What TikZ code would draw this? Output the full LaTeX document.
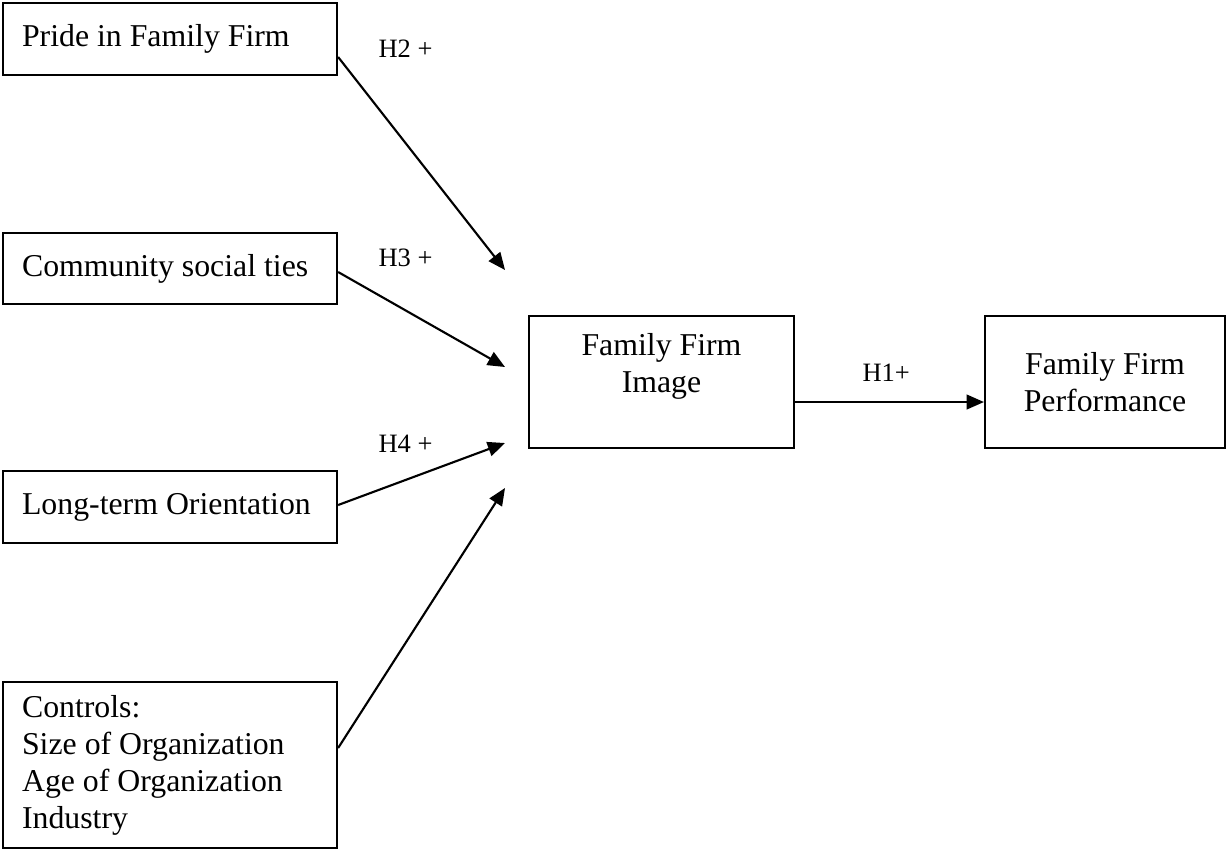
\documentclass[tikz,border=0pt]{standalone}
\usepackage{fontspec}
\setmainfont{Liberation Serif}
\usepackage{tikz}
\usetikzlibrary{arrows.meta,positioning}
\def\px{0.3774pt}
\tikzset{
  factor/.style={draw, line width=0.8pt, anchor=north west, align=flush left,
    text width=296*\px, inner xsep=19*\px, inner ysep=0pt,
    font=\fontsize{12}{14}\selectfont},
  construct/.style={draw, line width=0.8pt, align=center, inner sep=0pt,
    font=\fontsize{12}{14.2}\selectfont},
  hyp/.style={font=\fontsize{10}{12}\selectfont, anchor=base west, inner sep=0pt},
  link/.style={line width=0.8pt, -{Triangle[length=6.5pt,width=5.5pt]}}
}

\begin{document}
\begin{tikzpicture}[x=\px, y=-\px]
  \useasboundingbox (0,0) rectangle (1227,848);
  % --- Antecedents ---
  \node[factor, minimum height=72*\px] (pride) at (2,2) {Pride in Family Firm};
  \node[factor, minimum height=71*\px] (ties) at (2,232) {Community social ties};
  \node[factor, minimum height=72*\px] (lto) at (2,470) {Long-term Orientation};
  \node[factor, minimum height=166*\px] (controls) at (2,681)
    {Controls:\\Size of Organization\\Age of Organization\\Industry};
  % --- Image and performance ---
  \node[construct, minimum width=265*\px, minimum height=132*\px,
    text depth=38*\px] (image) at (661.5,382) {Family Firm\\Image};
  \node[construct, minimum width=240*\px, minimum height=132*\px]
    (perf) at (1105,382) {Family Firm\\Performance};
  % --- Free arrow ends ---
  \coordinate (tipPride) at (505,270);
  \coordinate (tipTies) at (505,367);
  \coordinate (tipLto) at (505,443);
  \coordinate (tipControls) at (505,488);
  % --- Paths ---
  \foreach \src/\y/\tip in {pride/57/tipPride, ties/272/tipTies,
      lto/505/tipLto, controls/748/tipControls}
    \draw[link] (\src.east |- 0,\y) -- (\tip);
  \draw[link] (image.east |- 0,402) -- (perf.west |- 0,402);
  % --- Hypotheses ---
  \node[hyp] (h2) at (378,57) {H2 +};
  \node[hyp] (h3) at (378,266) {H3 +};
  \node[hyp] (h4) at (378,452) {H4 +};
  \node[hyp] (h1) at (862,381) {H1+};
\end{tikzpicture}
\end{document}
